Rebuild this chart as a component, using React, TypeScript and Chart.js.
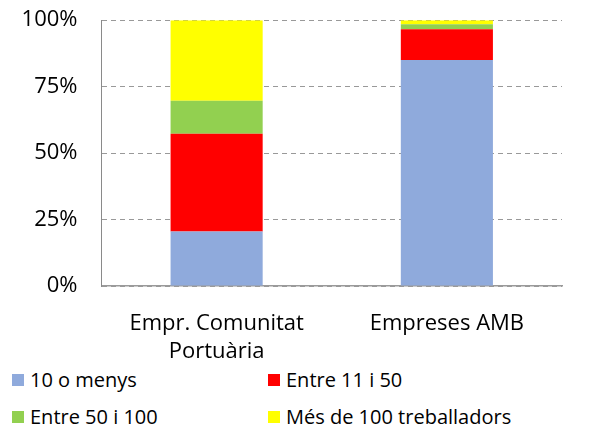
import React, { useEffect, useRef } from "react";
import { Chart, registerables } from "chart.js";

Chart.register(...registerables);

const categories: (string | string[])[] = [["Empr. Comunitat", "Portuària"], "Empreses AMB"];
const seriesNames = ["10 o menys", "Entre 11 i 50", "Entre 50 i 100", "Més de 100 treballadors"];
const small = [20.5, 85.0];
const mid = [36.8, 11.6];
const large = [12.4, 1.9];
const huge = [30.3, 1.5];
const colors = ["#8FAADC", "#FF0000", "#92D050", "#FFFF00"];
const yTicks = [0, 25, 50, 75, 100];

const FONT = "'Open Sans', Lato, sans-serif";

export default function App() {
  const ref = useRef<HTMLCanvasElement | null>(null);
  useEffect(() => {
    if (!ref.current) return;
    const values = [small, mid, large, huge];
    const chart = new Chart(ref.current, {
      type: "bar",
      data: {
        labels: categories as any,
        datasets: seriesNames.map((name, i) => ({
          label: name,
          data: values[i],
          backgroundColor: colors[i],
          borderWidth: 0,
          barPercentage: 0.4,
          categoryPercentage: 1,
        })),
      },
      options: {
        animation: false,
        responsive: false,
        maintainAspectRatio: false,
        layout: { padding: { top: 0, right: 42, left: 0, bottom: 0 } },
        plugins: { legend: { display: false }, tooltip: { enabled: false } },
        scales: {
          x: {
            stacked: true,
            grid: { display: false, drawTicks: false },
            border: { display: true, color: "#9a9a9a", width: 1.5 },
            ticks: {
              color: "#000",
              font: { family: FONT, size: 22, lineHeight: 1.25 },
              padding: 24,
              maxRotation: 0,
            },
            afterFit: (s: any) => { s.height = 79; },
          },
          y: {
            stacked: true,
            min: 0,
            max: 100,
            afterBuildTicks: (s: any) => { s.ticks = yTicks.map((v) => ({ value: v })); },
            grid: { color: "#999", drawTicks: false, lineWidth: 1 },
            border: { display: true, color: "#8a8a8a", width: 1, dash: [5, 4] },
            ticks: {
              color: "#000",
              font: { family: FONT, size: 22 },
              padding: 24,
              callback: (v: any) => v + "%",
            },
            afterFit: (s: any) => { s.width = 101.5; },
          },
        },
      },
    });
    return () => chart.destroy();
  }, []);

  const legendItem = (i: number, left: number, top: number) => (
    <div key={i} style={{ position: "absolute", left, top, display: "flex", alignItems: "center" }}>
      <div style={{ width: 12, height: 12, background: colors[i], marginRight: 6 }} />
      <span style={{ fontFamily: FONT, fontSize: 20, color: "#000", lineHeight: "24px", whiteSpace: "nowrap" }}>
        {seriesNames[i]}
      </span>
    </div>
  );

  return (
    <div style={{ position: "absolute", left: 0, top: 0, width: 604, height: 432, background: "#fff", overflow: "hidden" }}>
      <canvas ref={ref} width={604} height={382} style={{ position: "absolute", left: 0, top: -17 }} />
      {legendItem(0, 12, 368)}
      {legendItem(1, 268, 368)}
      {legendItem(2, 12, 405)}
      {legendItem(3, 268, 405)}
    </div>
  );
}
